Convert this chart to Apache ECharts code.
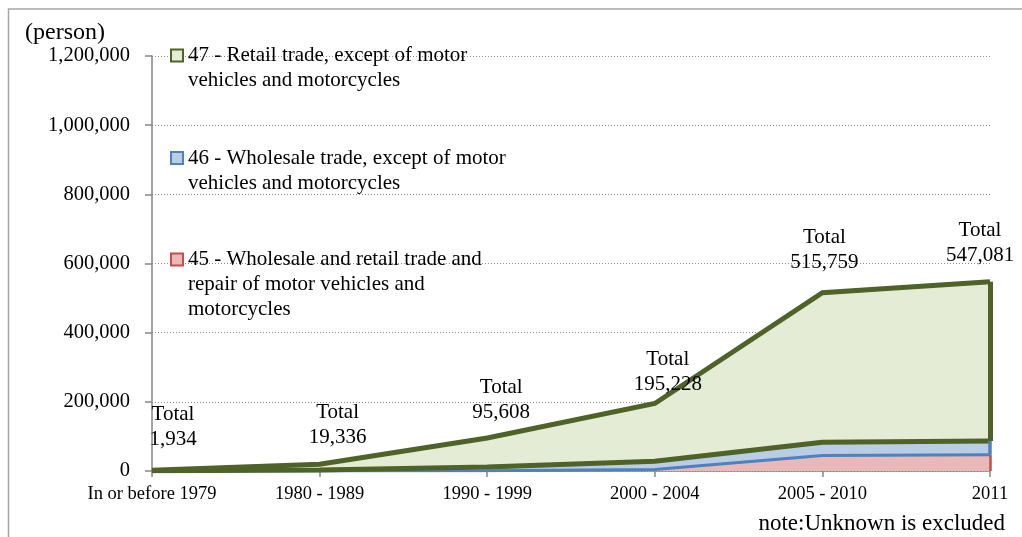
<!DOCTYPE html>
<html>
<head>
<meta charset="utf-8">
<script src="https://cdn.jsdelivr.net/npm/echarts@6/dist/echarts.min.js"></script>
<style>
  html, body { margin: 0; padding: 0; background: #ffffff; }
  #chart { width: 1022px; height: 537px; }
</style>
</head>
<body>
<div id="chart"></div>
<script>
// Persons engaged, by period of establishment (stacked by ISIC division)
const categories = ['In or before 1979', '1980 - 1989', '1990 - 1999', '2000 - 2004', '2005 - 2010', '2011'];
const totals = [1934, 19336, 95608, 195228, 515759, 547081];
const div45 = [100, 300, 800, 4000, 45000, 47000];
const div46 = [300, 2500, 11000, 24000, 38000, 40000];
const div47 = [1534, 16536, 83808, 167228, 432759, 460081];
const yTicks = [0, 200000, 400000, 600000, 800000, 1000000, 1200000];

const names = {
  d47: '47 - Retail trade, except of motor vehicles and motorcycles',
  d46: '46 - Wholesale trade, except of motor vehicles and motorcycles',
  d45: '45 - Wholesale and retail trade and repair of motor vehicles and motorcycles'
};
const wrapped = {};
wrapped[names.d47] = '47 - Retail trade, except of motor\nvehicles and motorcycles';
wrapped[names.d46] = '46 - Wholesale trade, except of motor\nvehicles and motorcycles';
wrapped[names.d45] = '45 - Wholesale and retail trade and\nrepair of motor vehicles and\nmotorcycles';

// label nudges for the "Total" annotations (layout only)
const totalNudge = [[21, -12.5], [18, -8.5], [14, -7.5], [13, -0.5], [2, -12.5], [-10, -8.5]];

const SERIF = '"Liberation Serif", "DejaVu Serif", serif';
const fmt = v => v.toLocaleString('en-US');

const col = {
  g: '#4F6228', gFill: '#E4ECD5',
  b: '#4F81BD', bFill: '#B9CDE5',
  r: '#C0504D', rFill: '#E8B9B8'
};

const chart = echarts.init(document.getElementById('chart'), null, { renderer: 'canvas' });

// square legend icon sitting on the first text line of a multi-line entry
function iconPath(lines) {
  const h = lines * 25;
  return 'path://M0,0L0,0M0,6.5L12,6.5L12,18.5L0,18.5Z M0,' + h + 'L0,' + h;
}
function legendFor(name, top, lines, fill, stroke) {
  return {
    data: [name],
    left: 170, top: top, padding: 0, orient: 'vertical',
    selectedMode: false,
    icon: iconPath(lines),
    itemWidth: 12, itemHeight: lines * 25,
    symbolKeepAspect: false,
    itemStyle: { color: fill, borderColor: stroke, borderWidth: 2 },
    formatter: n => wrapped[n],
    textStyle: { fontFamily: SERIF, fontSize: 21, color: '#000', lineHeight: 25 }
  };
}

const cum46 = div45.map((v, i) => v + div46[i]);
const last = categories.length - 1;

function edge(from, to, color, width) {
  return {
    silent: true, symbol: ['none', 'none'], label: { show: false },
    lineStyle: { color: color, width: width, type: 'solid' },
    data: [[{ coord: [last, from] }, { coord: [last, to] }]]
  };
}

const option = {
  animation: false,
  grid: { left: 152, right: 32, top: 56, bottom: 66 },
  legend: [
    legendFor(names.d47, 42, 2, col.gFill, col.g),
    legendFor(names.d46, 144.5, 2, col.bFill, col.b),
    legendFor(names.d45, 246, 3, col.rFill, col.r)
  ],
  xAxis: {
    type: 'category', data: categories, boundaryGap: false,
    axisLine: { lineStyle: { color: '#868686', width: 1.5 } },
    axisTick: { show: true, alignWithLabel: true, length: 6, lineStyle: { color: '#868686', width: 1.5 } },
    axisLabel: { fontFamily: SERIF, fontSize: 18.5, color: '#000', margin: 14, interval: 0 },
    splitLine: { show: false }
  },
  yAxis: {
    type: 'value', min: yTicks[0], max: yTicks[yTicks.length - 1], interval: yTicks[1] - yTicks[0],
    name: '(person)', nameLocation: 'end', nameGap: 11,
    nameTextStyle: { fontFamily: SERIF, fontSize: 24, color: '#000', align: 'right', padding: [0, 47, 0, 0] },
    axisLine: { show: true, lineStyle: { color: '#868686', width: 1.5 } },
    axisTick: { show: true, length: 7, lineStyle: { color: '#868686', width: 1.5 } },
    axisLabel: { fontFamily: SERIF, fontSize: 20.5, color: '#000', margin: 22, formatter: v => fmt(v) },
    splitLine: { show: true, lineStyle: { color: '#8c8c8c', width: 1, type: [1, 2] } }
  },
  series: [
    {
      name: names.d45, type: 'line', stack: 'all', data: div45,
      showSymbol: false, silent: true,
      lineStyle: { color: col.b, width: 3 },
      itemStyle: { color: col.r },
      areaStyle: { color: col.rFill, opacity: 1 },
      markLine: edge(0, div45[last], col.r, 2.5)
    },
    {
      name: names.d46, type: 'line', stack: 'all', data: div46,
      showSymbol: false, silent: true,
      lineStyle: { color: col.g, width: 5 },
      itemStyle: { color: col.b },
      areaStyle: { color: col.bFill, opacity: 1 },
      markLine: edge(div45[last], cum46[last], col.b, 3.5)
    },
    {
      name: names.d47, type: 'line', stack: 'all',
      data: div47.map((v, i) => ({
        value: v,
        label: { offset: totalNudge[i] }
      })),
      showSymbol: true, symbol: 'circle', symbolSize: 1, silent: true,
      lineStyle: { color: col.g, width: 5, join: 'miter' },
      itemStyle: { color: col.g },
      areaStyle: { color: col.gFill, opacity: 1 },
      label: {
        show: true, position: 'top', distance: 5,
        fontFamily: SERIF, fontSize: 21, color: '#000', lineHeight: 25, align: 'center',
        formatter: p => 'Total\n' + fmt(totals[p.dataIndex])
      },
      markLine: edge(cum46[last], totals[last], col.g, 5)
    }
  ],
  graphic: [
    {
      type: 'rect', silent: true, z: -10,
      shape: { x: 8.5, y: 9, width: 1200, height: 700 },
      style: { fill: 'none', stroke: '#a6a6a6', lineWidth: 1.5 }
    },
    {
      type: 'text', silent: true, right: 17, top: 512,
      style: { text: 'note:Unknown is excluded', font: '23px ' + SERIF, fill: '#000' }
    }
  ]
};

chart.setOption(option);
</script>
</body>
</html>
